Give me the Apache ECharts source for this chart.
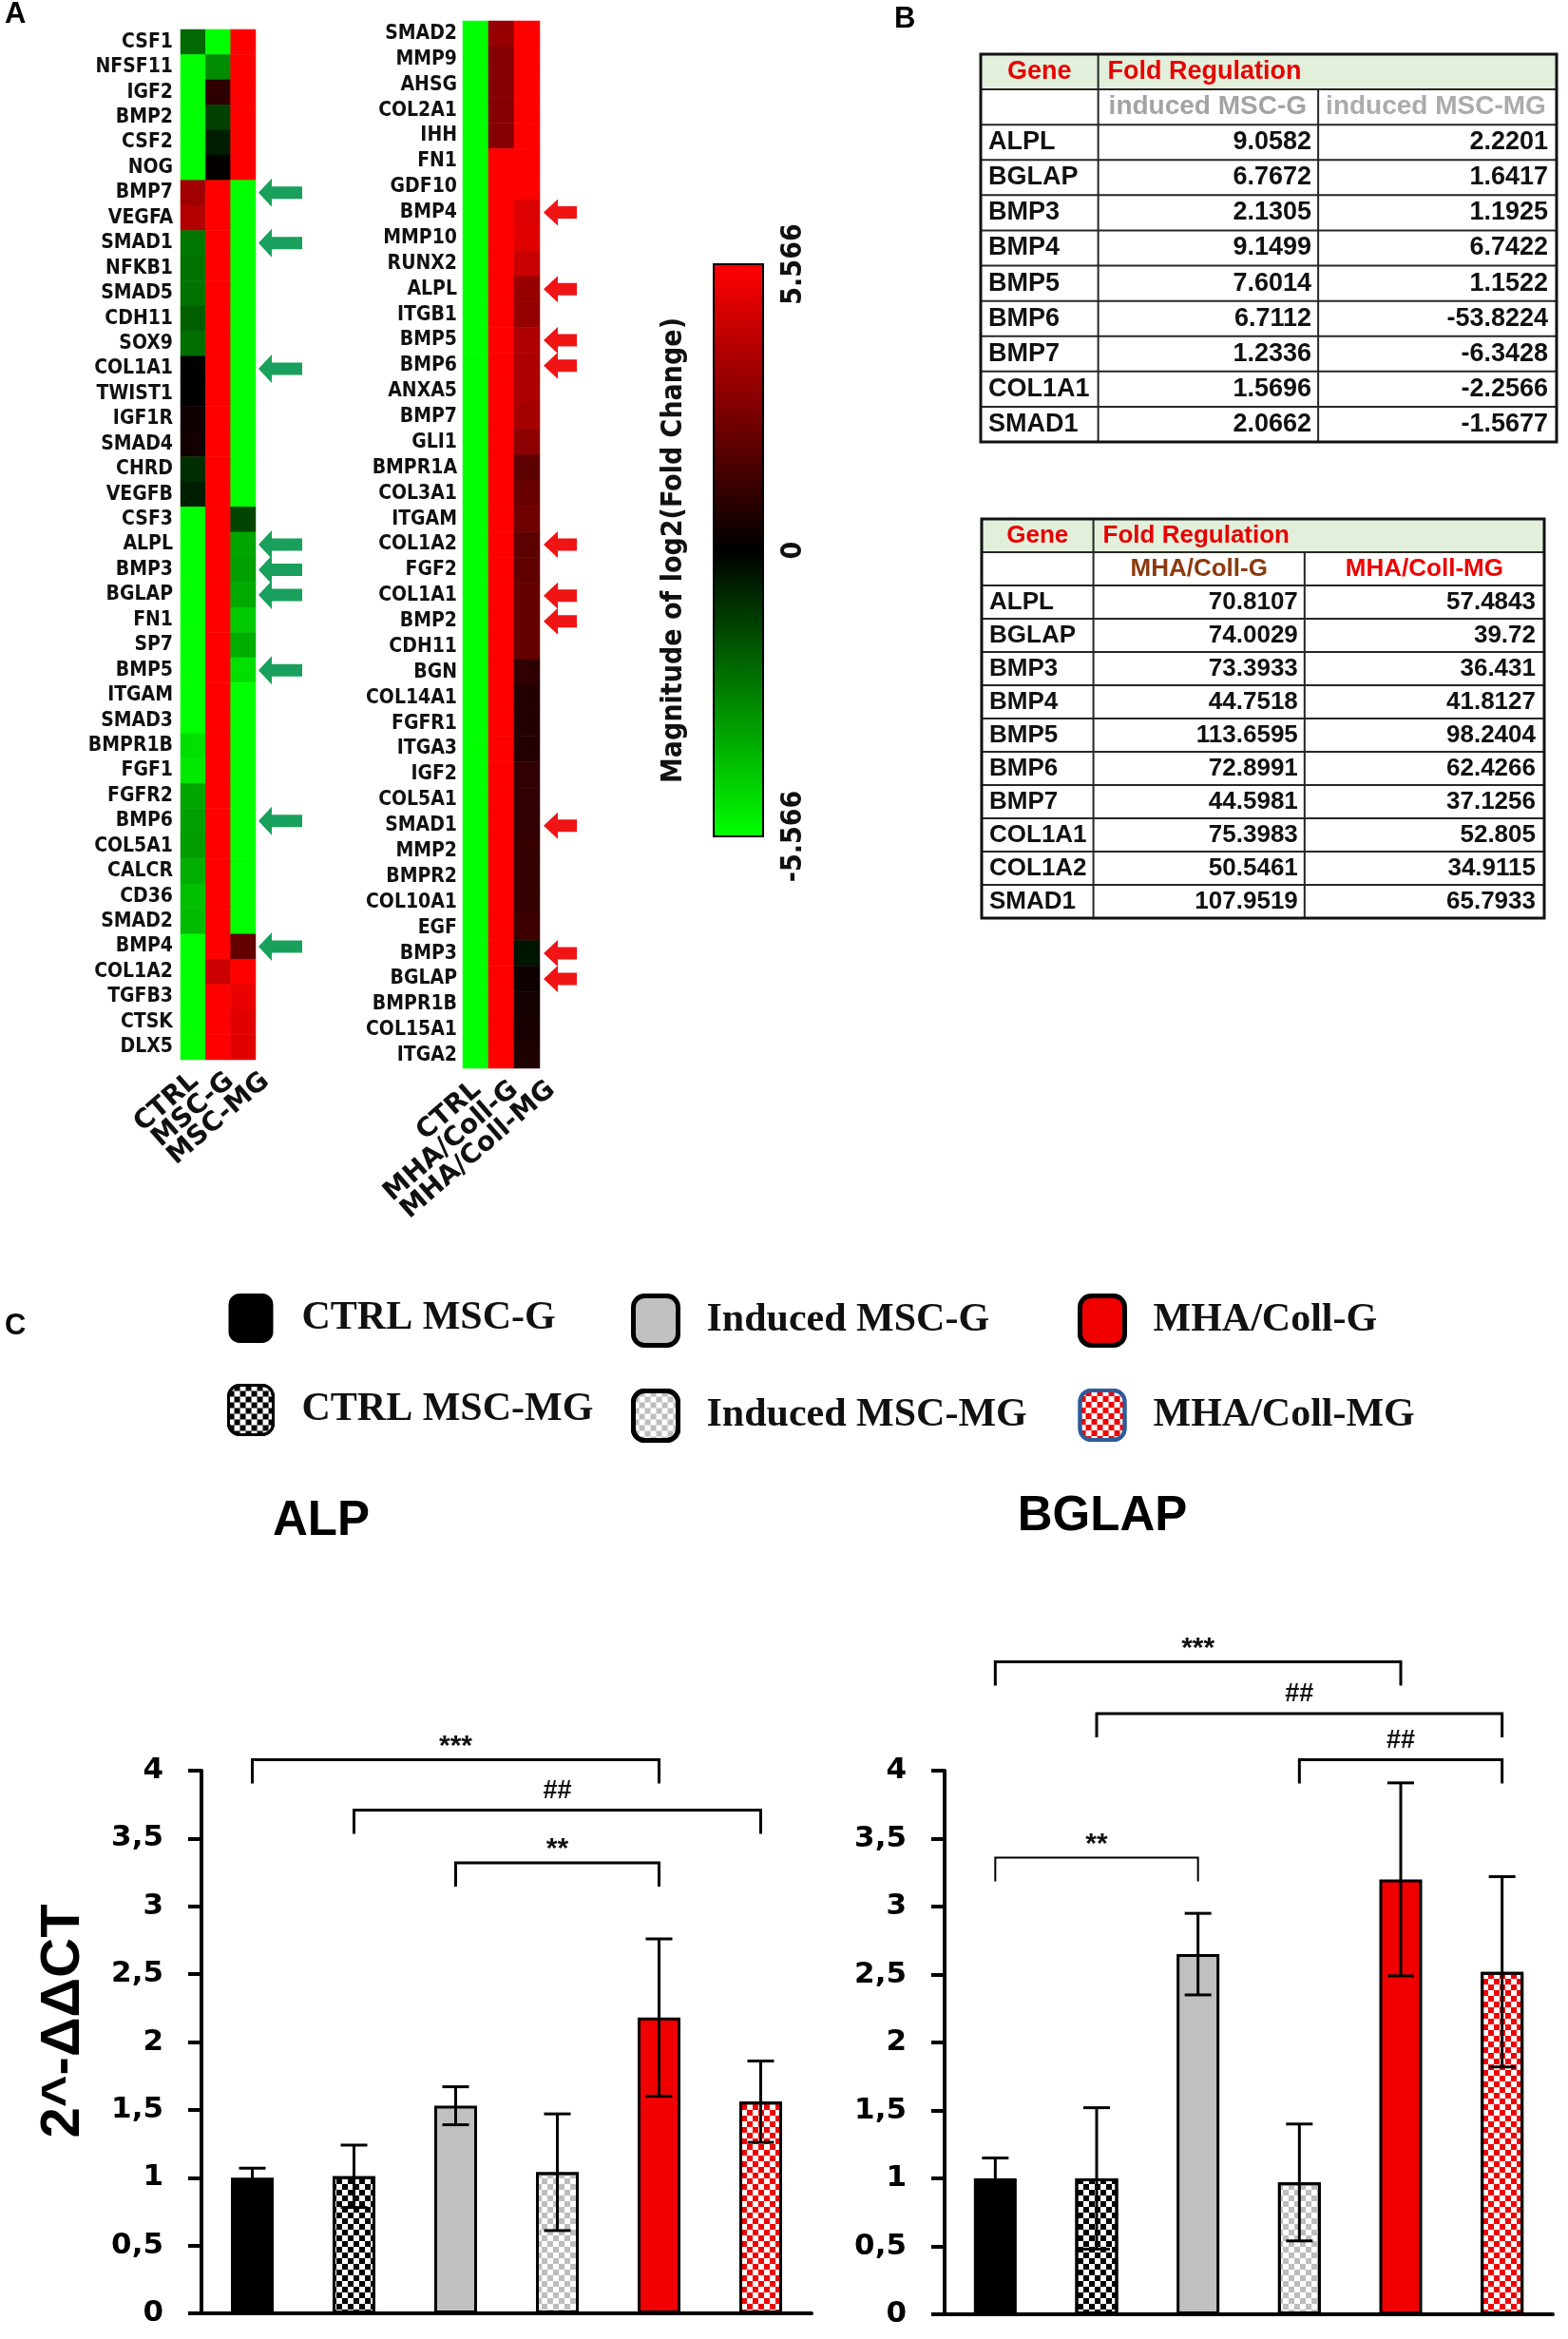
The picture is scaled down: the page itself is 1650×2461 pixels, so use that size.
<!DOCTYPE html>
<html><head><meta charset="utf-8">
<script src="https://cdn.jsdelivr.net/npm/echarts/dist/echarts.min.js"></script>
<style>html,body{margin:0;padding:0;background:#fff}#c{width:1650px;height:2461px}</style>
</head><body><div id="c"></div>
<script>
// ---------------- DATA ----------------
const heatLeftGenes = ['CSF1','NFSF11','IGF2','BMP2','CSF2','NOG','BMP7','VEGFA','SMAD1','NFKB1','SMAD5','CDH11','SOX9','COL1A1','TWIST1','IGF1R','SMAD4','CHRD','VEGFB','CSF3','ALPL','BMP3','BGLAP','FN1','SP7','BMP5','ITGAM','SMAD3','BMPR1B','FGF1','FGFR2','BMP6','COL5A1','CALCR','CD36','SMAD2','BMP4','COL1A2','TGFB3','CTSK','DLX5'];
const heatLeftCols = ['CTRL','MSC-G','MSC-MG'];
const heatLeftCTRL = [-2.3,-5.566,-5.566,-5.566,-5.566,-5.566,3.5,3.9,-2.6,-2.5,-2.5,-2.1,-2.4,0.0,0.0,0.3,0.4,-1.0,-0.65,-5.566,-5.566,-5.566,-5.566,-5.566,-5.566,-5.566,-5.566,-5.566,-4.9,-5.1,-3.6,-3.5,-3.4,-3.8,-4.2,-4.1,-5.566,-5.566,-5.566,-5.566,-5.566];
const heatLeftMSCG = [-5.566,-3.05,1.0,-1.4,-0.65,0.1,5.566,5.566,5.566,5.566,5.566,5.566,5.566,5.566,5.566,5.566,5.566,5.566,5.566,5.566,5.566,5.566,5.566,5.566,5.566,5.566,5.566,5.566,5.566,5.566,5.566,5.566,5.566,5.566,5.566,5.566,5.566,4.4,5.566,5.566,5.566];
const heatLeftMSCMG = [5.566,5.566,5.566,5.566,5.566,5.566,-5.566,-5.566,-5.566,-5.566,-5.566,-5.566,-5.566,-5.566,-5.566,-5.566,-5.566,-5.566,-5.566,-1.5,-3.6,-3.5,-3.7,-4.4,-3.8,-4.9,-5.566,-5.566,-5.566,-5.566,-5.566,-5.566,-5.566,-5.566,-5.566,-5.566,2.2,5.566,5.1,4.9,4.9];
const heatLeftArrows = ['BMP7','SMAD1','COL1A1','ALPL','BMP3','BGLAP','BMP5','BMP6','BMP4'];

const heatRightGenes = ['SMAD2','MMP9','AHSG','COL2A1','IHH','FN1','GDF10','BMP4','MMP10','RUNX2','ALPL','ITGB1','BMP5','BMP6','ANXA5','BMP7','GLI1','BMPR1A','COL3A1','ITGAM','COL1A2','FGF2','COL1A1','BMP2','CDH11','BGN','COL14A1','FGFR1','ITGA3','IGF2','COL5A1','SMAD1','MMP2','BMPR2','COL10A1','EGF','BMP3','BGLAP','BMPR1B','COL15A1','ITGA2'];
const heatRightCols = ['CTRL','MHA/Coll-G','MHA/Coll-MG'];
const heatRightCTRL = [-5.566,-5.566,-5.566,-5.566,-5.566,-5.566,-5.566,-5.566,-5.566,-5.566,-5.566,-5.566,-5.566,-5.566,-5.566,-5.566,-5.566,-5.566,-5.566,-5.566,-5.566,-5.566,-5.566,-5.566,-5.566,-5.566,-5.566,-5.566,-5.566,-5.566,-5.566,-5.566,-5.566,-5.566,-5.566,-5.566,-5.566,-5.566,-5.566,-5.566,-5.566];
const heatRightG = [3.3,2.9,2.9,2.9,2.9,5.566,5.566,5.566,5.566,5.566,5.566,5.566,5.566,5.566,5.566,5.566,5.566,5.566,5.566,5.566,5.566,5.566,5.566,5.566,5.566,5.566,5.566,5.566,5.566,5.566,5.566,5.566,5.566,5.566,5.566,5.566,5.566,5.566,5.566,5.566,5.566];
const heatRightMG = [5.566,5.566,5.566,5.566,5.566,5.566,5.566,4.8,4.9,4.4,3.3,3.2,3.8,3.7,3.7,3.6,3.05,2.0,2.3,2.4,2.0,2.1,2.2,2.2,2.2,1.0,0.75,0.75,0.75,1.1,1.1,1.1,1.2,1.2,1.2,1.3,-0.45,0.33,0.45,0.55,0.65];
const heatRightArrows = ['BMP4','ALPL','BMP5','BMP6','COL1A2','COL1A1','BMP2','SMAD1','BMP3','BGLAP'];

const colorbarMin = -5.566, colorbarMax = 5.566;
const colorbarTickLabels = ['-5.566','0','5.566'];
const colorbarTitle = 'Magnitude of log2(Fold Change)';

const table1Head = ['Gene','Fold Regulation'];
const table1Sub = ['induced MSC-G','induced MSC-MG'];
const table1Genes = ['ALPL','BGLAP','BMP3','BMP4','BMP5','BMP6','BMP7','COL1A1','SMAD1'];
const table1InducedG = [9.0582,6.7672,2.1305,9.1499,7.6014,6.7112,1.2336,1.5696,2.0662];
const table1InducedMG = [2.2201,1.6417,1.1925,6.7422,1.1522,-53.8224,-6.3428,-2.2566,-1.5677];

const table2Head = ['Gene','Fold Regulation'];
const table2Sub = ['MHA/Coll-G','MHA/Coll-MG'];
const table2Genes = ['ALPL','BGLAP','BMP3','BMP4','BMP5','BMP6','BMP7','COL1A1','COL1A2','SMAD1'];
const table2CollG = [70.8107,74.0029,73.3933,44.7518,113.6595,72.8991,44.5981,75.3983,50.5461,107.9519];
const table2CollMG = [57.4843,39.72,36.431,41.8127,98.2404,62.4266,37.1256,52.805,34.9115,65.7933];

const groups = ['CTRL MSC-G','CTRL MSC-MG','Induced MSC-G','Induced MSC-MG','MHA/Coll-G','MHA/Coll-MG'];
const alpMean = [1.0,1.01,1.53,1.04,2.18,1.56];
const alpErr = [0.07,0.23,0.14,0.43,0.58,0.30];
const bglapMean = [1.0,1.0,2.65,0.97,3.2,2.52];
const bglapErr = [0.15,0.52,0.30,0.43,0.71,0.70];
const yTickLabels = ['0','0,5','1','1,5','2','2,5','3','3,5','4'];

const alpBracketFrom = [0,1,2];
const alpBracketTo = [4,5,4];
const alpBracketY = [4.08,3.71,3.32];
const alpBracketLabel = ['***','##','**'];
const bglapBracketFrom = [0,1,3,0];
const bglapBracketTo = [4,5,5,2];
const bglapBracketY = [4.80,4.42,4.08,3.36];
const bglapBracketLabel = ['***','##','##','**'];

// ---------------- STYLE ----------------
const LF = "'DejaVu Sans Condensed','DejaVu Sans',sans-serif";
const AF = "'Liberation Sans',Arial,sans-serif";
const SF = "'Liberation Serif','Times New Roman',serif";
const DF = "'DejaVu Sans',sans-serif";
const alpBracketWidth = [3,3,3];
const bglapBracketWidth = [3,3,3,2];

function checker(c) {
  return {symbol:'rect', symbolSize:1, color:c, dashArrayX:[[6,6],[0,6,6,0]], dashArrayY:[6,0], rotation:0};
}
const groupStyle = {
  'CTRL MSC-G': {color:'#000000'},
  'CTRL MSC-MG': {color:'#ffffff', decal: checker('#000000')},
  'Induced MSC-G': {color:'#c0c0c0'},
  'Induced MSC-MG': {color:'#ffffff', decal: checker('#bdbdbd')},
  'MHA/Coll-G': {color:'#f00000'},
  'MHA/Coll-MG': {color:'#ffffff', decal: checker('#f00000')}
};
const legendBorder = {
  'CTRL MSC-G': ['#000',0], 'CTRL MSC-MG': ['#000',3], 'Induced MSC-G': ['#000',5],
  'Induced MSC-MG': ['#000',5], 'MHA/Coll-G': ['#000',5], 'MHA/Coll-MG': ['#2e5c9a',4]
};

function heatData(cols) {
  const out = [];
  cols.forEach((arr, j) => arr.forEach((v, i) => out.push([j, i, v])));
  return out;
}

// column labels under a heatmap, placed from the category scale
function colLabelRender(labels, spread, shift) {
  return function (params, api) {
    const j = api.value(0);
    const p = api.coord([j, api.value(1)]);
    const h = api.size([0, 1])[1];
    return {type:'text', x:p[0] + j * spread + shift, y:p[1] + h / 2 + 19, rotation:41 * Math.PI / 180,
      style:{text:labels[j], x:0, y:0, align:'right', verticalAlign:'middle', fontSize:28, fontWeight:'bold', fontFamily:DF, fill:'#111'}};
  };
}

function tableRender(cfg) {
  return function (params, api) {
    const i = api.value(1);
    const c = api.coord([0, i]);
    const h = api.size([0, 1])[1];
    const cs = params.coordSys;
    const x0 = cs.x, x1 = cs.x + cs.width;
    const xa = x0 + cs.width * cfg.c1, xb = x0 + cs.width * cfg.c2;
    const top = c[1] - h / 2, bot = c[1] + h / 2, cy = c[1];
    const kids = [];
    const line = (ax, ay, bx, by, w, col) => ({type:'line', shape:{x1:ax,y1:ay,x2:bx,y2:by}, style:{stroke:col || '#262626', lineWidth:w || 2}});
    const txt = (s, x, align, size, weight, fill) => ({type:'text', style:{text:s, x:x, y:cy, align:align, verticalAlign:'middle', fontSize:size, fontWeight:weight, fontFamily:AF, fill:fill}});
    if (i === 0) {
      kids.push({type:'rect', shape:{x:x0, y:top, width:cs.width, height:h}, style:{fill:'#e2efda'}});
      kids.push(txt(cfg.head[0], (x0 + xa) / 2, 'center', cfg.hs, 'bold', '#e60000'));
      kids.push(txt(cfg.head[1], xa + 10, 'left', cfg.hs, 'bold', '#e60000'));
      kids.push(line(xa, top, xa, bot));
    } else if (i === 1) {
      if (cfg.subCenter) {
        kids.push(txt(cfg.sub[0], (xa + xb) / 2, 'center', cfg.ss, 'bold', cfg.subColors[0]));
        kids.push(txt(cfg.sub[1], (xb + x1) / 2, 'center', cfg.ss, 'bold', cfg.subColors[1]));
      } else {
        kids.push(txt(cfg.sub[0], xa + 11, 'left', cfg.ss, 'bold', cfg.subColors[0]));
        kids.push(txt(cfg.sub[1], xb + 8, 'left', cfg.ss, 'bold', cfg.subColors[1]));
      }
      kids.push(line(xa, top, xa, bot));
      kids.push(line(xb, top, xb, bot));
    } else {
      const k = i - 2;
      kids.push(txt(cfg.genes[k], x0 + 8, 'left', cfg.ds, 'bold', '#111'));
      kids.push(txt(String(cfg.v1[k]), xb - 7, 'right', cfg.ds, 'bold', '#111'));
      kids.push(txt(String(cfg.v2[k]), x1 - 9, 'right', cfg.ds, 'bold', '#111'));
      kids.push(line(xa, top, xa, bot));
      kids.push(line(xb, top, xb, bot));
    }
    if (i < cfg.genes.length + 1) kids.push(line(x0, bot, x1, bot));
    return {type:'group', children:kids};
  };
}

function errRender(params, api) {
  const x = api.value(0);
  const lo = api.coord([x, api.value(1)]), hi = api.coord([x, api.value(2)]);
  const cap = 14;
  const st = {stroke:'#000', lineWidth:3};
  return {type:'group', children:[
    {type:'line', shape:{x1:lo[0], y1:lo[1], x2:hi[0], y2:hi[1]}, style:st},
    {type:'line', shape:{x1:hi[0]-cap, y1:hi[1], x2:hi[0]+cap, y2:hi[1]}, style:st},
    {type:'line', shape:{x1:lo[0]-cap, y1:lo[1], x2:lo[0]+cap, y2:lo[1]}, style:st}
  ]};
}

function bracketRender(labels, widths) {
  return function (params, api) {
    const a = api.coord([api.value(0), api.value(2)]);
    const b = api.coord([api.value(1), api.value(2)]);
    const drop = 25;
    const lab = labels[params.dataIndex];
    const star = lab.indexOf('*') >= 0;
    return {type:'group', children:[
      {type:'polyline', shape:{points:[[a[0], a[1] + drop], [a[0], a[1]], [b[0], b[1]], [b[0], b[1] + drop]]},
        style:{stroke:'#000', lineWidth:widths[params.dataIndex], fill:'none'}},
      {type:'text', style:{text:lab, x:(a[0] + b[0]) / 2, y:a[1] - (star ? 14 : 20), align:'center', verticalAlign:'middle',
        fontSize:star ? 30 : 27, fontWeight:'bold', fontFamily:AF, fill:'#111'}}
    ]};
  };
}

function barSeries(mean, xi, yi, stackName) {
  return groups.map((g, i) => ({
    name: g, type: 'bar', xAxisIndex: xi, yAxisIndex: yi, stack: stackName, barWidth: 45,
    data: mean.map((v, j) => (j === i ? v : '-')),
    itemStyle: Object.assign({borderColor:'#000', borderWidth:3}, groupStyle[g]),
    emphasis: {disabled: true}, z: 2
  }));
}

function legendBlock(names, left) {
  return {
    orient:'vertical', left:left, top:1361, padding:0, itemGap:43, itemWidth:47, itemHeight:52,
    icon:'roundRect', selectedMode:false,
    data: names.map(n => ({name:n, itemStyle:{borderColor:legendBorder[n][0], borderWidth:legendBorder[n][1]}})),
    textStyle:{fontFamily:SF, fontWeight:'bold', fontSize:42, color:'#111', padding:[0,0,0,25]}
  };
}

const leftArrowPath = 'path://M0,15 L14,0 L14,8.5 L46,8.5 L46,21.5 L14,21.5 L14,30 Z';
const rightArrowPath = 'path://M0,14 L15,0 L15,7.5 L35,7.5 L35,20.5 L15,20.5 L15,28 Z';

const hiddenVal = (gi) => ({gridIndex:gi, type:'value', min:0, max:1, show:false});
const geneAxis = (gi, genes, show, margin) => ({
  gridIndex:gi, type:'category', data:genes, inverse:true, show:show,
  axisLine:{show:false}, axisTick:{show:false}, splitLine:{show:false},
  axisLabel:{interval:0, margin:margin, fontSize:21, fontWeight:'bold', fontFamily:LF, color:'#111'}
});
const colAxis = (gi, cols) => ({
  gridIndex:gi, type:'category', data:cols, position:'bottom',
  axisLine:{show:false}, axisTick:{show:false}, splitLine:{show:false}, axisLabel:{show:false}
});
const barValueAxis = (gi, withName) => ({
  gridIndex:gi, type:'value', min:0, max:4, interval:0.5,
  axisLine:{show:true, lineStyle:{color:'#000', width:4}},
  axisTick:{show:true, length:14, lineStyle:{color:'#000', width:4}},
  splitLine:{show:false},
  axisLabel:{margin:40, fontSize:31, fontWeight:'bold', fontFamily:DF, color:'#000',
    formatter:(v) => yTickLabels[Math.round(v / 0.5)]},
  name: withName ? '2^-ΔΔCT' : '', nameLocation:'middle', nameRotate:90, nameGap:116,
  nameTextStyle:{fontSize:58, fontWeight:'bold', fontFamily:AF, color:'#000', padding:[0,0,0,44]}
});
const barCatAxis = (gi) => ({
  gridIndex:gi, type:'category', data:groups,
  axisLine:{show:true, lineStyle:{color:'#000', width:4}},
  axisTick:{show:false}, axisLabel:{show:false}, splitLine:{show:false}
});

const g = (o) => Object.assign({containLabel:false, outerBoundsMode:'none'}, o);

const option = {
  animation:false,
  backgroundColor:'#ffffff',
  textStyle:{fontFamily:AF},
  title:[
    {text:'A', left:5, top:0, padding:0, textStyle:{fontSize:31, fontWeight:'bold', fontFamily:AF, color:'#000'}},
    {text:'B', left:941, top:5, padding:0, textStyle:{fontSize:31, fontWeight:'bold', fontFamily:AF, color:'#000'}},
    {text:'C', left:5, top:1380, padding:0, textStyle:{fontSize:31, fontWeight:'bold', fontFamily:AF, color:'#000'}},
    {text:'ALP', left:338, top:1575, padding:0, textAlign:'center', textStyle:{fontSize:51, fontWeight:'bold', fontFamily:AF, color:'#000'}},
    {text:'BGLAP', left:1160, top:1570, padding:0, textAlign:'center', textStyle:{fontSize:51, fontWeight:'bold', fontFamily:AF, color:'#000'}}
  ],
  legend:[
    legendBlock(['CTRL MSC-G','CTRL MSC-MG'], 239),
    legendBlock(['Induced MSC-G','Induced MSC-MG'], 664),
    legendBlock(['MHA/Coll-G','MHA/Coll-MG'], 1134)
  ],
  grid:[
    g({left:190, top:31, width:79, height:1084}),
    g({left:272, top:31, width:46, height:1084}),
    g({left:487, top:22, width:81, height:1102}),
    g({left:572, top:22, width:35, height:1102}),
    g({left:751, top:278, width:52, height:602, show:true, borderColor:'#000', borderWidth:2, backgroundColor:'transparent', z:10}),
    g({left:1032, top:57, width:606, height:408, show:true, borderColor:'#111', borderWidth:3, backgroundColor:'transparent', z:5}),
    g({left:1033, top:546, width:592, height:420, show:true, borderColor:'#111', borderWidth:3, backgroundColor:'transparent', z:5}),
    g({left:212, top:1863, width:642, height:571}),
    g({left:994, top:1863, width:640, height:572})
  ],
  xAxis:[
    colAxis(0, heatLeftCols),
    hiddenVal(1),
    colAxis(2, heatRightCols),
    hiddenVal(3),
    hiddenVal(4),
    hiddenVal(5),
    hiddenVal(6),
    barCatAxis(7),
    barCatAxis(8)
  ],
  yAxis:[
    geneAxis(0, heatLeftGenes, true, 8),
    geneAxis(1, heatLeftGenes, false, 8),
    geneAxis(2, heatRightGenes, true, 6),
    geneAxis(3, heatRightGenes, false, 6),
    {gridIndex:4, type:'value', position:'right', min:colorbarMin, max:colorbarMax, interval:5.566,
      axisLine:{show:false}, splitLine:{show:false},
      axisTick:{show:true, length:13, lineStyle:{color:'#000', width:2}},
      axisLabel:{rotate:90, margin:17, fontSize:30, fontWeight:'bold', fontFamily:LF, color:'#111',
        formatter:(v) => colorbarTickLabels[Math.round((v - colorbarMin) / 5.566)]}},
    {gridIndex:4, type:'value', position:'left', min:colorbarMin, max:colorbarMax,
      axisLine:{show:false}, axisTick:{show:false}, axisLabel:{show:false}, splitLine:{show:false},
      name:colorbarTitle, nameLocation:'middle', nameRotate:90, nameGap:27,
      nameTextStyle:{fontSize:30, fontWeight:'bold', fontFamily:LF, color:'#111'}},
    {gridIndex:5, type:'category', data:['head','sub'].concat(table1Genes), inverse:true, show:false},
    {gridIndex:6, type:'category', data:['head','sub'].concat(table2Genes), inverse:true, show:false},
    barValueAxis(7, true),
    barValueAxis(8, false)
  ],
  visualMap:[{
    type:'continuous', min:colorbarMin, max:colorbarMax, seriesIndex:[0,1], dimension:2,
    calculable:false, show:true, orient:'vertical', left:751, top:278, itemWidth:52, itemHeight:602,
    padding:0, text:null, hoverLink:false,
    inRange:{color:['#00ff00','#000000','#ff0000']}
  }],
  series:[
    {type:'heatmap', xAxisIndex:0, yAxisIndex:0, data:heatData([heatLeftCTRL, heatLeftMSCG, heatLeftMSCMG]),
      itemStyle:{borderWidth:0}, emphasis:{disabled:true}, progressive:0},
    {type:'heatmap', xAxisIndex:2, yAxisIndex:2, data:heatData([heatRightCTRL, heatRightG, heatRightMG]),
      itemStyle:{borderWidth:0}, emphasis:{disabled:true}, progressive:0},
    {type:'scatter', xAxisIndex:1, yAxisIndex:1, data:heatLeftArrows.map(n => [0.5, n]),
      symbol:leftArrowPath, symbolSize:[46,30], itemStyle:{color:'#18a05c', opacity:1}, silent:true},
    {type:'scatter', xAxisIndex:3, yAxisIndex:3, data:heatRightArrows.map(n => [0.5, n]),
      symbol:rightArrowPath, symbolSize:[35,28], itemStyle:{color:'#f01414', opacity:1}, silent:true},
    {type:'custom', xAxisIndex:5, yAxisIndex:6, silent:true, clip:false,
      data:['head','sub'].concat(table1Genes).map((r, i) => [0.5, i]), encode:{x:0, y:1},
      renderItem:tableRender({c1:0.204, c2:0.586, head:table1Head, sub:table1Sub, subCenter:false,
        subColors:['#a3a3a3','#ababab'], genes:table1Genes, v1:table1InducedG, v2:table1InducedMG, hs:27, ss:28, ds:27})},
    {type:'custom', xAxisIndex:6, yAxisIndex:7, silent:true, clip:false,
      data:['head','sub'].concat(table2Genes).map((r, i) => [0.5, i]), encode:{x:0, y:1},
      renderItem:tableRender({c1:0.1986, c2:0.574, head:table2Head, sub:table2Sub, subCenter:true,
        subColors:['#8b3a0e','#ee0000'], genes:table2Genes, v1:table2CollG, v2:table2CollMG, hs:26, ss:26, ds:26})},
    {type:'custom', xAxisIndex:0, yAxisIndex:0, silent:true, clip:false,
      data:heatLeftCols.map((c, j) => [j, heatLeftGenes.length - 1]), encode:{x:0, y:1},
      renderItem:colLabelRender(heatLeftCols, 11, 2)},
    {type:'custom', xAxisIndex:2, yAxisIndex:2, silent:true, clip:false,
      data:heatRightCols.map((c, j) => [j, heatRightGenes.length - 1]), encode:{x:0, y:1},
      renderItem:colLabelRender(heatRightCols, 12, 2)}
  ]
    .concat(barSeries(alpMean, 7, 8, 'alp'))
    .concat([
      {type:'custom', xAxisIndex:7, yAxisIndex:8, silent:true, clip:false, z:4,
        data:alpMean.map((m, i) => [i, m - alpErr[i], m + alpErr[i]]), encode:{x:0, y:[1,2]}, renderItem:errRender},
      {type:'custom', xAxisIndex:7, yAxisIndex:8, silent:true, clip:false, z:4,
        data:alpBracketFrom.map((f, k) => [f, alpBracketTo[k], alpBracketY[k]]), encode:{x:[0,1], y:2},
        renderItem:bracketRender(alpBracketLabel, alpBracketWidth)}
    ])
    .concat(barSeries(bglapMean, 8, 9, 'bglap'))
    .concat([
      {type:'custom', xAxisIndex:8, yAxisIndex:9, silent:true, clip:false, z:4,
        data:bglapMean.map((m, i) => [i, m - bglapErr[i], m + bglapErr[i]]), encode:{x:0, y:[1,2]}, renderItem:errRender},
      {type:'custom', xAxisIndex:8, yAxisIndex:9, silent:true, clip:false, z:4,
        data:bglapBracketFrom.map((f, k) => [f, bglapBracketTo[k], bglapBracketY[k]]), encode:{x:[0,1], y:2},
        renderItem:bracketRender(bglapBracketLabel, bglapBracketWidth)}
    ])
};

const chart = echarts.init(document.getElementById('c'), null, {renderer:'canvas', width:1650, height:2461});
chart.setOption(option);
</script>
</body></html>
